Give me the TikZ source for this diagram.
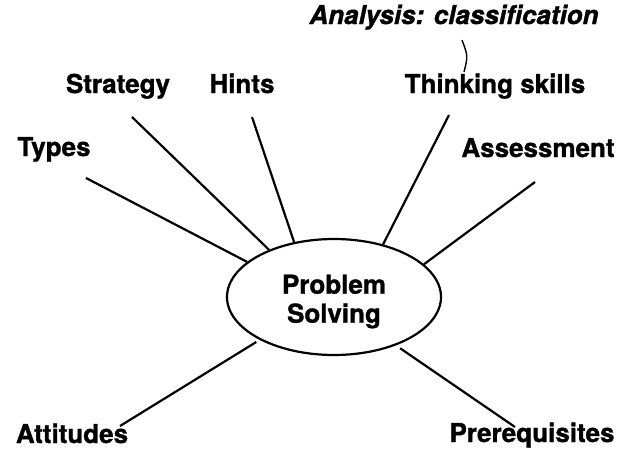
\documentclass[tikz,border=0pt]{standalone}
\usepackage{fontspec}
\setmainfont[FakeBold=1.2]{TeX Gyre Heros}
\usetikzlibrary{shapes.geometric}
\tikzset{
    lbl/.style={font=\fontsize{26}{28}\selectfont\bfseries, inner sep=0pt, anchor=base},
    spoke/.style={line width=2.2pt},
}
\begin{document}
\begin{tikzpicture}[x=1pt, y=-1pt]
    \useasboundingbox (0,0) rectangle (633,451);
    \node[draw, ellipse, line width=2.2pt, minimum width=214pt, minimum height=116pt, inner sep=0pt,
      align=center, font=\fontsize{26}{29}\selectfont\bfseries] (ps) at (334,297) {\rule{0pt}{28pt}Problem\\Solving};
    \node[lbl] (types) at (54,156) {Types};
    \node[lbl] (strategy) at (118,93) {Strategy};
    \node[lbl] (hints) at (242,93) {Hints};
    \node[lbl] (thinking) at (495,93) {Thinking skills};
    \node[lbl] (assess) at (538,157) {Assessment};
    \node[lbl, font=\fontsize{26}{28}\selectfont\bfseries\itshape] (analysis) at (454,24) {Analysis: classification};
    \node[lbl] (attitudes) at (72,443) {Attitudes};
    \node[lbl] (prereq) at (532,442) {Prerequisites};
    \coordinate (types-end) at (86,178);
    \coordinate (strategy-end) at (132,117);
    \coordinate (hints-end) at (252,117);
    \coordinate (thinking-end) at (449,115);
    \coordinate (assess-end) at (535,182);
    \coordinate (attitudes-end) at (120,426);
    \coordinate (prereq-end) at (515,427);
    \coordinate (analysis-foot) at (462,40);
    \coordinate (thinking-top) at (464,72);
    \draw[spoke] (types-end) -- (ps.158);
    \draw[spoke] (strategy-end) -- (ps.144);
    \draw[spoke] (hints-end) -- (ps.126);
    \draw[spoke] (thinking-end) -- (ps.47);
    \draw[spoke] (assess-end) -- (ps.20);
    \draw[spoke, shorten >=4pt] (attitudes-end) -- (ps.210);
    \draw[spoke, shorten >=5pt] (prereq-end) -- (ps.322);
    \draw[line width=1.4pt] (analysis-foot) .. controls (468,56) .. (thinking-top);
\end{tikzpicture}
\end{document}
